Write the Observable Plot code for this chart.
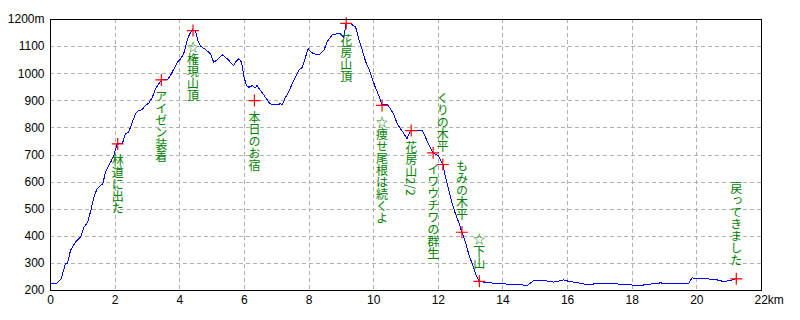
<!DOCTYPE html>
<html><head><meta charset="utf-8">
<script src="https://cdn.jsdelivr.net/npm/d3@7"></script>
<script src="https://cdn.jsdelivr.net/npm/@observablehq/plot@0.6"></script>
<style>body{margin:0;background:#fff}</style>
</head><body><div id="chart"></div>
<script>
const distKm = [0.00,0.20,0.34,0.46,0.52,0.62,0.77,0.93,1.03,1.15,1.26,1.34,1.44,1.55,1.62,1.70,1.77,1.86,1.96,2.06,2.22,2.32,2.42,2.53,2.63,2.73,2.83,2.94,3.04,3.15,3.25,3.35,3.45,3.61,3.71,3.82,3.92,4.02,4.12,4.20,4.28,4.38,4.49,4.56,4.64,4.80,4.95,5.05,5.16,5.31,5.47,5.57,5.67,5.72,5.83,5.91,5.98,6.06,6.14,6.24,6.34,6.39,6.50,6.65,6.79,6.96,7.12,7.17,7.27,7.37,7.48,7.58,7.68,7.79,7.89,7.97,8.09,8.25,8.35,8.46,8.56,8.72,8.87,8.97,9.07,9.15,9.28,9.44,9.54,9.64,9.75,9.85,9.95,10.05,10.18,10.26,10.42,10.52,10.62,10.73,10.83,10.93,11.03,11.09,11.16,11.50,11.60,11.71,11.84,12.01,12.14,12.22,12.33,12.43,12.53,12.63,12.73,12.84,12.94,13.05,13.15,13.27,13.41,13.72,14.03,14.13,14.54,14.75,14.95,15.26,15.57,15.88,16.03,16.40,16.60,16.91,17.43,17.84,18.20,18.66,18.87,19.18,19.75,19.85,20.01,20.32,20.63,20.83,21.04,21.20];
const elevM = [227,227,245,300,300,348,378,397,433,452,501,544,575,587,594,637,655,673,698,741,741,778,784,821,852,864,867,883,891,913,944,963,977,977,993,1018,1042,1054,1073,1110,1140,1162,1158,1122,1102,1089,1073,1042,1051,1070,1055,1042,1030,1042,1055,1042,993,956,950,956,948,956,938,913,889,885,889,885,913,932,963,987,1012,1024,1061,1092,1077,1070,1073,1086,1118,1144,1147,1147,1135,1186,1184,1173,1128,1090,1045,1018,984,950,913,885,887,870,850,815,797,780,760,778,790,790,766,737,708,696,665,618,569,520,483,452,415,378,335,298,262,234,231,227,227,222,222,218,237,237,231,239,234,227,222,225,225,222,218,225,228,225,227,247,243,243,239,233,237,243];

const markerKm = [2.08,3.43,4.41,6.31,9.15,10.26,11.16,11.84,12.14,12.73,13.27,21.22];
const markerElev = [741,977,1159,901,1186,883,790,708,665,415,234,243];
const markerLabel = ["林道に出た","アイゼン装着","☆権現山頂","本日のお宿","花房山頂","☆痩せ尾根は続くよ","花房山2/2","イワウチワの群生","くりの木平","もみの木平","☆下山","戻ってきました"];
const markerSide = ["below","below","below","below","below","below","below","below","above","above","above","above"];

const xTicks = [0,2,4,6,8,10,12,14,16,18,20];
const xLastTick = 22;
const yTicks = [200,300,400,500,600,700,800,900,1000,1100,1200];

const profile = distKm.map((d,i)=>({km:d, m:elevM[i]}));
const markers = markerKm.map((d,i)=>({km:d, m:markerElev[i], label:markerLabel[i], side:markerSide[i]}));

const plusSymbol = {draw(ctx){ const r = 6; ctx.moveTo(-r,0); ctx.lineTo(r,0); ctx.moveTo(0,-r); ctx.lineTo(0,r);} };

function vertical(index, scales, values, dims, context, next){
  const g = next(index, scales, values, dims, context);
  g.querySelectorAll("text").forEach(t=>{ t.setAttribute("writing-mode","vertical-rl"); });
  return g;
}

const labelFont = "'Noto Sans CJK JP', sans-serif";

const chart = Plot.plot({
  width: 800, height: 320,
  marginLeft: 50, marginTop: 19, marginRight: 39, marginBottom: 30,
  style: {fontFamily: "'Liberation Sans', sans-serif", fontSize: "12px", background: "#fff"},
  x: {domain: [0,22]},
  y: {domain: [200,1200]},
  marks: [
    Plot.gridX(xTicks.concat([xLastTick]), {stroke:"#b0b0b0", strokeOpacity:1, strokeDasharray:"4,3", shapeRendering:"crispEdges"}),
    Plot.gridY(yTicks, {stroke:"#b0b0b0", strokeOpacity:1, strokeDasharray:"4,3", shapeRendering:"crispEdges"}),
    Plot.axisY({ticks: yTicks, tickSize:0, tickPadding:6, label:null, tickFormat: d => d===1200 ? "1200m" : String(d), fill:"#000"}),
    Plot.axisX({ticks: xTicks, tickSize:0, tickPadding:5, label:null, fill:"#000"}),
    Plot.text([xLastTick], {x: d=>d, text: d=>`${d}km`, frameAnchor:"bottom", lineAnchor:"top", dy:5, dx:-7, textAnchor:"start", fill:"#000"}),
    Plot.line(profile, {x:"km", y:"m", stroke:"#0000ff", strokeWidth:1, shapeRendering:"crispEdges"}),
    Plot.dot(markers, {x:"km", y:"m", symbol: plusSymbol, stroke:"#ff0000", fill:"none", strokeWidth:1.2}),
    Plot.text(markers.filter(d=>d.side==="below"), {x:"km", y:"m", text:"label", textAnchor:"start", lineAnchor:"bottom", dy:11, fill:"#008000", fontFamily: labelFont, fontSize:12, render: vertical}),
    Plot.text(markers.filter(d=>d.side==="above"), {x:"km", y:"m", text:"label", textAnchor:"end", lineAnchor:"bottom", dy:-12, fill:"#008000", fontFamily: labelFont, fontSize:12, render: vertical}),
    Plot.frame({stroke:"#000", strokeWidth:1, shapeRendering:"crispEdges"})
  ]
});
document.getElementById("chart").appendChild(chart);
</script>
</body></html>
